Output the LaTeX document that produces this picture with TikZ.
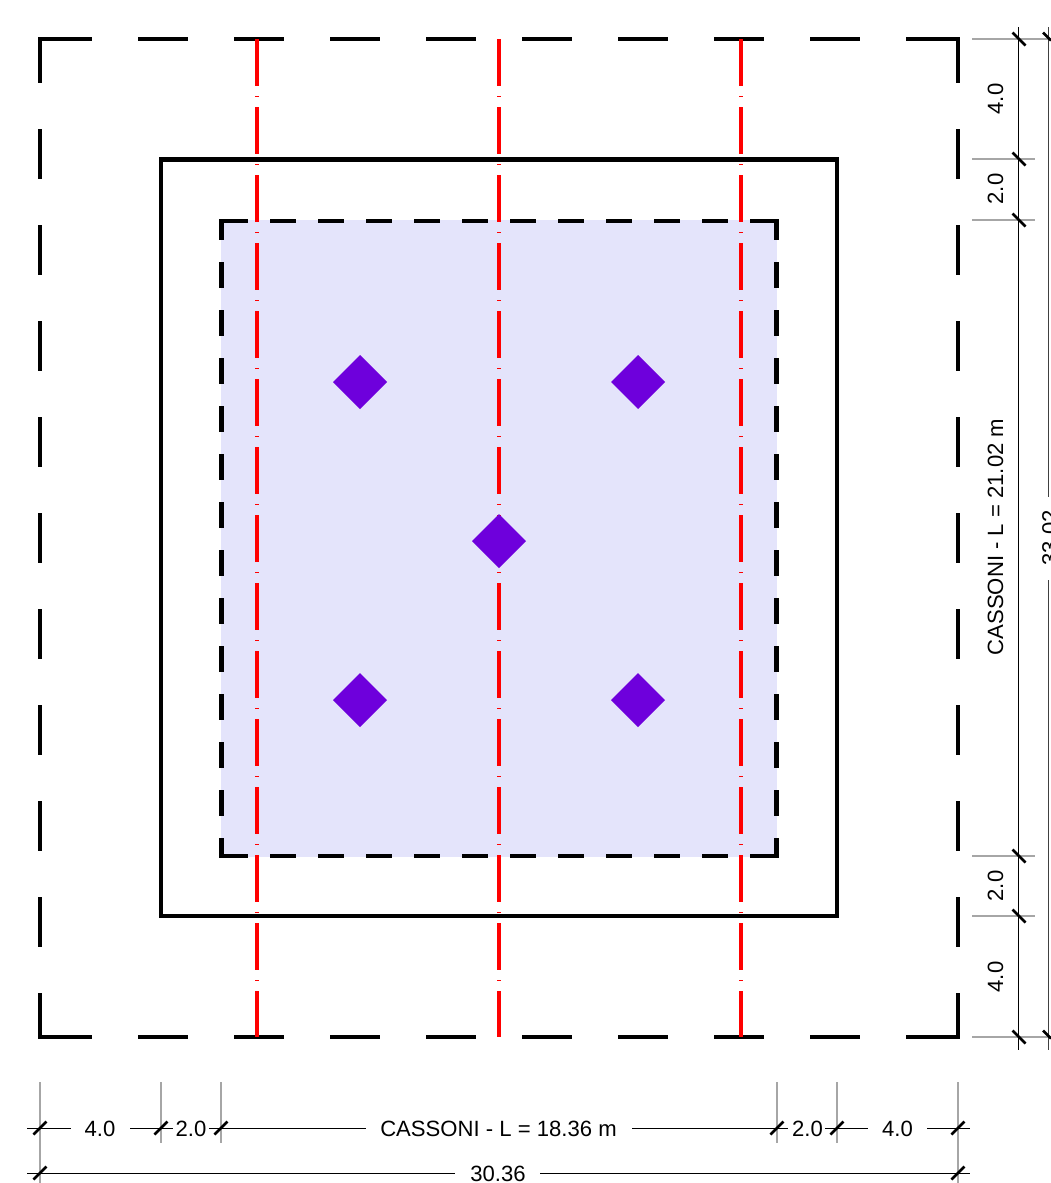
\documentclass[tikz,border=0pt]{standalone}
\usepackage{fontspec}
\setmainfont{Liberation Sans}
\definecolor{cfill}{HTML}{E4E4FB}
\definecolor{cdiam}{HTML}{6E00DC}
\definecolor{cext}{HTML}{A6A6A6}
\tikzset{
  outerln/.style={line width=4.4pt,black,dash pattern=on 50pt off 46pt},
  midln/.style={line width=4.4pt,black,line join=miter},
  innerln/.style={line width=4.4pt,black,dash pattern=on 26pt off 22pt},
  axisln/.style={line width=4pt,red,dash pattern=on 46.5pt off 10.5pt on 1pt off 10pt},
  pile/.style={fill=cdiam,draw=none},
  ext/.style={line width=2.2pt,cext},
  dim/.style={line width=1pt,black},
  dimb/.style={line width=1pt,black!75},
  tick/.style={line width=2.6pt,black},
  lbl/.style={inner sep=0pt,font=\fontsize{22.1}{24}\selectfont,text=black},
}
\begin{document}
\begin{tikzpicture}[x=1pt,y=-1pt]
\useasboundingbox (0,0) rectangle (1051,1183);
% inner filled area
\fill[cfill] (221,220) rectangle (777,856.5);
% outer dashed border
\draw[outerln,dash phase=92pt] (38,39) -- (960,39);
\draw[outerln,dash phase=92pt] (38,1037) -- (960,1037);
\draw[outerln,dash phase=4pt] (40,37) -- (40,1039);
\draw[outerln,dash phase=4pt] (958,37) -- (958,1039);
% middle rectangle
\draw[midln] (161,159.5) rectangle (837,916);
% inner dashed border
\draw[innerln,dash phase=45.5pt] (219.5,221) -- (778.5,221);
\draw[innerln,dash phase=45.5pt] (219.5,856) -- (778.5,856);
\draw[innerln,dash phase=5pt] (221.5,219) -- (221.5,858);
\draw[innerln,dash phase=5pt] (776.5,219) -- (776.5,858);
% axes
\foreach \n/\x in {a/257,b/499,c/741}{
  \coordinate (ax\n t) at (\x,39);
  \coordinate (ax\n b) at (\x,1037);
  \draw[axisln] (ax\n t) -- (ax\n b);
}
% piles
\foreach \n/\x/\y in {p1/360/382,p2/638/382,p3/499/541,p4/360/700,p5/638/700}{
  \path[pile] (\x,\y-27) -- (\x+27,\y) -- (\x,\y+27) -- (\x-27,\y) -- cycle;
}
% right dimensions: extension lines
\foreach \y/\e in {39/1051,159/1035,220/1035,856/1035,916/1035,1037/1051}{
  \draw[ext] (972,\y) -- (\e,\y);
}
\draw[dim] (1018.5,27) -- (1018.5,1050);
\draw[dimb] (1048.5,27) -- (1048.5,497);
\draw[dimb] (1048.5,580) -- (1048.5,1050);
\foreach \y in {39,159,220,856,916,1037}{
  \draw[tick] (1012.5,\y-6.5) -- (1025.5,\y+6.5);
}
\foreach \y in {39,1037}{
  \draw[tick] (1043,\y-6.5) -- (1051,\y+1.5);
}
% right labels
\node[lbl,rotate=90] (r1) at (995.5,99) {4.0};
\node[lbl,rotate=90] (r2) at (995.5,189) {2.0};
\node[lbl,rotate=90] (r3) at (995.5,537) {CASSONI - L = 21.02 m};
\node[lbl,rotate=90] (r4) at (995.5,886) {2.0};
\node[lbl,rotate=90] (r5) at (995.5,977) {4.0};
\node[lbl,rotate=90] (r6) at (1050,538) {33.02};
% bottom dimensions: extension lines
\foreach \x/\e in {40/1183,161/1143,221/1143,777/1143,837/1143,958/1183}{
  \draw[ext] (\x,1082) -- (\x,\e);
}
\foreach \a/\b in {27/71,130/173,209/366,632/788,825/868,927/970}{
  \draw[dim] (\a,1128.5) -- (\b,1128.5);
}
\draw[dim] (27,1173.5) -- (455,1173.5);
\draw[dim] (540,1173.5) -- (970,1173.5);
\foreach \x in {40,161,221,777,837,958}{
  \draw[tick] (\x-6.5,1134.5) -- (\x+6.5,1121.5);
}
\foreach \x in {40,958}{
  \draw[tick] (\x-6.5,1179.5) -- (\x+6.5,1166.5);
}
% bottom labels
\node[lbl] (b1) at (100,1128.5) {4.0};
\node[lbl] (b2) at (191,1128.5) {2.0};
\node[lbl] (b3) at (498.5,1128.5) {CASSONI - L = 18.36 m};
\node[lbl] (b4) at (807.5,1128.5) {2.0};
\node[lbl] (b5) at (897.5,1128.5) {4.0};
\node[lbl] (b6) at (498,1173.5) {30.36};
\end{tikzpicture}
\end{document}
